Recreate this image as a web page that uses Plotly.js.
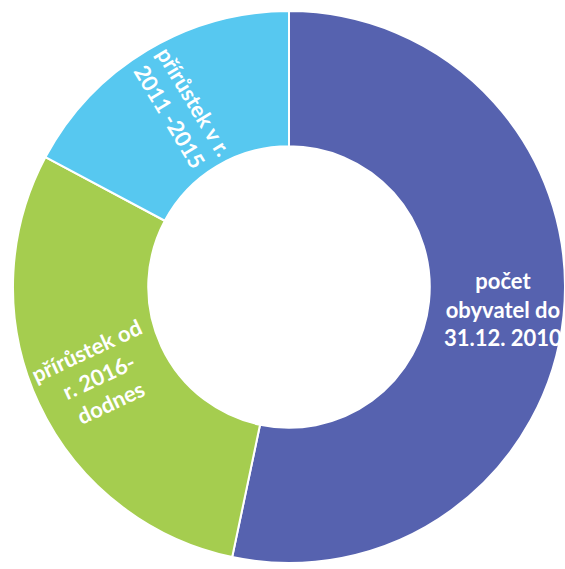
<!DOCTYPE html>
<html>
<head>
<meta charset="utf-8">
<script src="https://cdn.plot.ly/plotly-3.0.1.min.js"></script>
<style>html,body{margin:0;padding:0;background:#fff;}#chart{width:565px;height:569px;}</style>
</head>
<body>
<div id="chart"></div>
<script>
const labels = ['počet obyvatel do 31.12. 2010', 'přírůstek od r. 2016-dodnes', 'přírůstek v r. 2011 -2015'];
const values = [53.3, 29.5, 17.2];
const sliceText = ['počet<br>obyvatel do<br>31.12. 2010', 'přírůstek od<br>r. 2016-<br>dodnes', 'přírůstek v r.<br>2011 -2015'];
const colors = ['#5662AF', '#A5CD4F', '#57C8F0'];

const W = 565, H = 569;
const domX = [0.023, 1], domY = [0.0105, 0.9807];
const hole = 0.51;
const font = {family: 'Lato, Open Sans, sans-serif', size: 22, color: '#ffffff', weight: 700};

// donut; only the light-blue slice uses Plotly's own (radial) inside text
const trace = {
  type: 'pie',
  labels: labels,
  values: values,
  sort: false,
  direction: 'clockwise',
  rotation: 0,
  hole: hole,
  text: sliceText.map((t, i) => i === 2 ? t : ''),
  textinfo: 'text',
  textposition: sliceText.map((t, i) => i === 2 ? 'inside' : 'none'),
  insidetextorientation: 'radial',
  textfont: font,
  insidetextfont: font,
  showlegend: false,
  hoverinfo: 'label+value',
  domain: {x: domX, y: domY},
  marker: {colors: colors, line: {color: '#ffffff', width: 2}}
};

// labels for the blue and green slices, placed at each slice's mid-angle (from the data)
const total = values.reduce((a, b) => a + b, 0);
const Rpx = Math.min((domX[1] - domX[0]) * W, (domY[1] - domY[0]) * H) / 2;
const cx = (domX[0] + domX[1]) / 2, cy = (domY[0] + domY[1]) / 2;
function midFrac(i) {
  let s = 0;
  for (let k = 0; k < i; k++) s += values[k];
  return (s + values[i] / 2) / total;
}
function sliceLabel(i, radial, rFrac) {
  const f = midFrac(i);
  const th = f * 2 * Math.PI;
  const r = Rpx * rFrac;
  return {
    xref: 'paper', yref: 'paper',
    x: cx + r * Math.sin(th) / W,
    y: cy + r * Math.cos(th) / H,
    xanchor: 'center', yanchor: 'middle',
    text: sliceText[i],
    textangle: radial ? f * 360 - 270 : 0,
    showarrow: false,
    font: font
  };
}

Plotly.newPlot('chart', [trace], {
  width: W, height: H,
  margin: {l: 0, r: 0, t: 0, b: 0},
  paper_bgcolor: '#ffffff',
  plot_bgcolor: '#ffffff',
  annotations: [sliceLabel(0, false, 0.78), sliceLabel(1, true, 0.76)]
}, {displayModeBar: false, staticPlot: true});
</script>
</body>
</html>
